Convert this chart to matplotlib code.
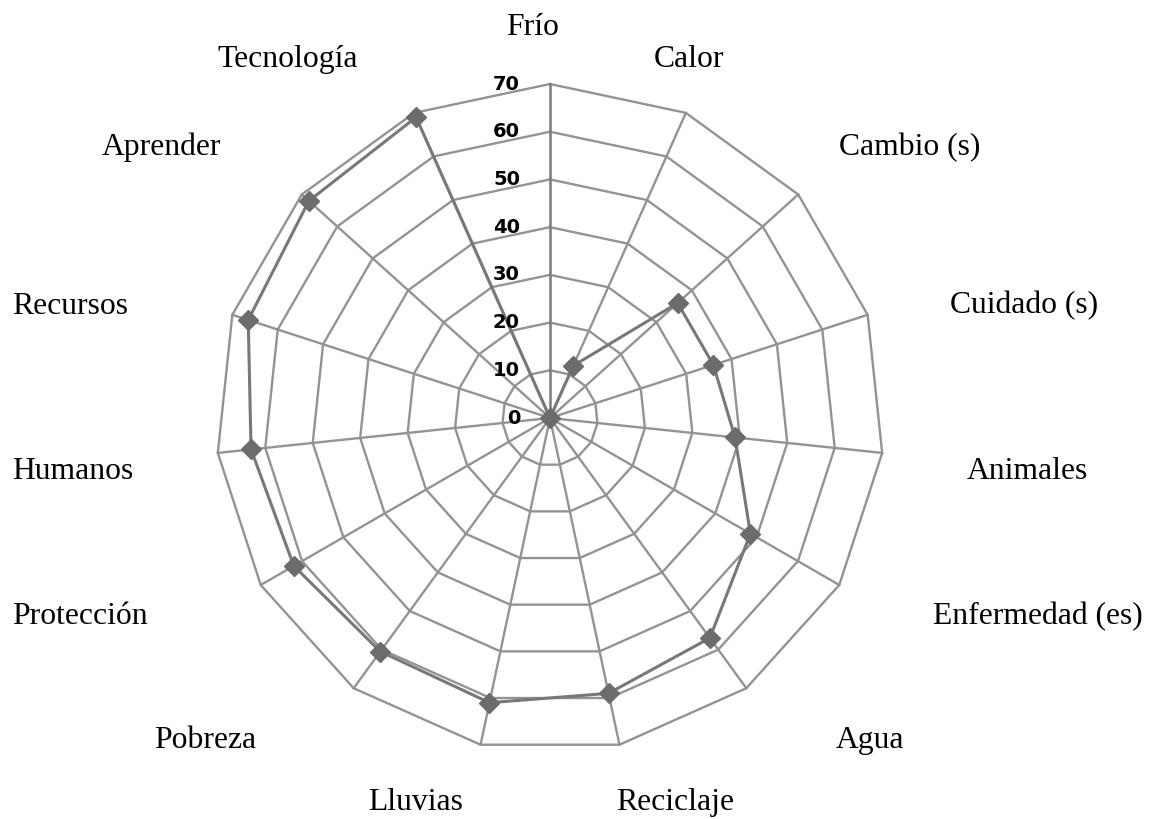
import numpy as np
import matplotlib
matplotlib.use('Agg')
import matplotlib.pyplot as plt

# categories, clockwise from the top
categories = ['Frío', 'Calor', 'Cambio (s)', 'Cuidado (s)', 'Animales',
              'Enfermedad (es)', 'Agua', 'Reciclaje', 'Lluvias', 'Pobreza',
              'Protección', 'Humanos', 'Recursos', 'Aprender', 'Tecnología']
values = [0, 12, 36, 36, 39, 48.5, 57, 59, 61, 60.5, 62, 63, 66.5, 68, 69]
rticks = [0, 10, 20, 30, 40, 50, 60, 70]

# label anchors in pixels (x centre, baseline from top)
label_px = [(533, 35), (689, 67), (910, 155), (1024, 313), (1027, 479),
            (1038, 624), (870, 748), (675, 810), (416, 810), (205, 748),
            (80, 624), (73, 479), (70, 314), (162, 155), (288, 67)]

W, H = 1153, 819
fig = plt.figure(figsize=(W / 100, H / 100), dpi=100)
fig.patch.set_facecolor('white')

cx, cy, R = 550, 418, 334
ax = fig.add_axes([(cx - R) / W, (H - cy - R) / H, 2 * R / W, 2 * R / H], projection='polar')
ax.set_theta_offset(np.pi / 2)
ax.set_theta_direction(-1)
ax.set_ylim(0, 70)
ax.grid(False)
ax.spines['polar'].set_visible(False)
ax.set_xticks([])
ax.set_yticks([])
ax.patch.set_alpha(0)

n = len(categories)
theta = np.arange(n) * 2 * np.pi / n
theta_c = np.append(theta, theta[0])

grid_col = '#939393'
# polygon grid
for lev in rticks[1:]:
    ax.plot(theta_c, [lev] * (n + 1), color=grid_col, lw=1.7, clip_on=False, zorder=1)
# spokes
for i, t in enumerate(theta):
    ax.plot([t, t], [0, rticks[-1]], color='#808080' if i == 0 else grid_col,
            lw=1.9 if i == 0 else 1.7, clip_on=False, zorder=1)

# data
vals_c = values + [values[0]]
ax.plot(theta_c, vals_c, color='#787878', lw=2.2, zorder=3, clip_on=False)
ax.plot(theta, values, linestyle='none', marker='D', markersize=10,
        color='#6c6c6c', zorder=4, clip_on=False)

# radial tick labels left of the vertical axis
for v in rticks:
    ax.annotate(str(v), xy=(0, v), xytext=(-30, 0), textcoords='offset pixels',
                ha='right', va='center', fontsize=14, fontweight='bold',
                color='black', zorder=5)

for lab, (x, y) in zip(categories, label_px):
    fig.text(x / W, 1 - y / H, lab, ha='center', va='baseline',
             fontsize=22.8, family='Liberation Serif', color='black')

fig.savefig('out.png', dpi=100, facecolor='white')
